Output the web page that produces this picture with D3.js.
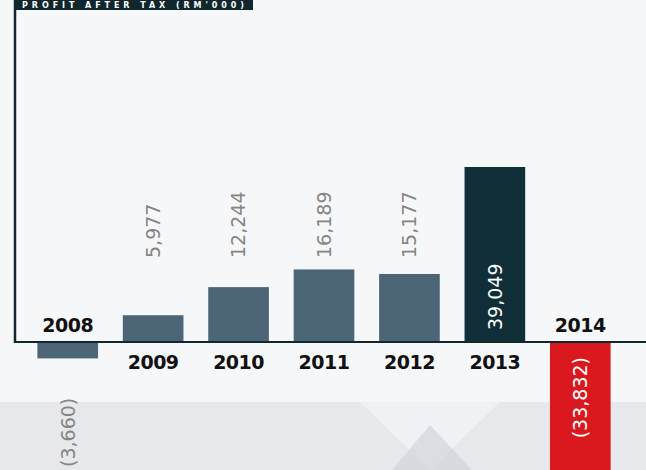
<!DOCTYPE html>
<html>
<head>
<meta charset="utf-8">
<script src="https://cdn.jsdelivr.net/npm/d3@7"></script>
<style>
  html, body { margin: 0; padding: 0; background: #f5f6f8; overflow: hidden; }
  svg { display: block; }
</style>
</head>
<body>
<svg id="chart" width="646" height="470"></svg>
<script>
// Profit after tax, RM'000 (brackets = loss)
const years = ["2008", "2009", "2010", "2011", "2012", "2013", "2014"];
const profits = [-3660, 5977, 12244, 16189, 15177, 39049, -33832];
const valueLabels = ["(3,660)", "5,977", "12,244", "16,189", "15,177", "39,049", "(33,832)"];
const highlightYear = "2013";
const title = "PROFIT AFTER TAX (RM'000)";

const W = 646, H = 470;
const svg = d3.select("#chart");

// Background panels
const bg = svg.append("g");
bg.append("rect").attr("width", W).attr("height", H).attr("fill", "#f6f7f9");
bg.append("rect").attr("x", 0).attr("y", 402).attr("width", W).attr("height", H - 402).attr("fill", "#e6e8eb");
bg.append("path").attr("d", "M360,402 L500,402 L430,470 Z").attr("fill", "#f0f1f4");
bg.append("path").attr("d", "M430,425 L392,470 L472,470 Z").attr("fill", "#cdd0d5").attr("opacity", 0.6);

const x = d3.scaleBand().domain(years).range([25, 623]).paddingInner(0.29).paddingOuter(0.145);
const y = d3.scaleLinear().domain([0, 39049]).range([342, 167]);

const data = years.map((yr, i) => ({ year: yr, value: profits[i], label: valueLabels[i] }));

const LOSS_RED = "#d9191d";
function barColor(d) {
  if (d.year === highlightYear) return "#0f2e38";
  if (d.year === "2014") return LOSS_RED;
  return "#4c6577";
}

// Bars
svg.append("g").selectAll("rect").data(data).join("rect")
  .attr("x", d => x(d.year))
  .attr("width", x.bandwidth())
  .attr("y", d => Math.min(y(d.value), y(0)))
  .attr("height", d => Math.abs(y(d.value) - y(0)))
  .attr("fill", barColor);

// Frame: left rule, baseline, title tab
const dark = "#10272e";
svg.append("line").attr("x1", 15).attr("x2", 15).attr("y1", 0).attr("y2", y(0) + 1)
  .attr("stroke", dark).attr("stroke-width", 2.5);
svg.append("line").attr("x1", 14).attr("x2", W).attr("y1", y(0)).attr("y2", y(0))
  .attr("stroke", dark).attr("stroke-width", 2);
svg.append("rect").attr("x", 14).attr("y", 0).attr("width", 239).attr("height", 10).attr("fill", dark);
svg.append("text").attr("x", 22).attr("y", 8)
  .attr("font-family", "DejaVu Sans").attr("font-weight", "bold").attr("font-size", 8)
  .attr("textLength", 222).attr("lengthAdjust", "spacing")
  .attr("fill", "#ffffff").text(title);

// Year labels: below the baseline for profits, above it for losses
svg.append("g").selectAll("text").data(data).join("text")
  .attr("x", d => x(d.year) + x.bandwidth() / 2)
  .attr("y", d => d.value < 0 ? y(0) - 10 : y(0) + 27)
  .attr("text-anchor", "middle")
  .attr("font-family", "DejaVu Sans").attr("font-weight", "bold").attr("font-size", 19)
  .attr("letter-spacing", -0.5)
  .attr("fill", "#111").text(d => d.year);

// Rotated value labels
function labelPos(d) {
  if (d.year === highlightYear) return { y: y(0) - 12, anchor: "start", fill: "#ffffff" };
  if (barColor(d) === LOSS_RED) return { y: y(0) + 15, anchor: "end", fill: "#ffffff" };
  if (d.value < 0) return { y: 467, anchor: "start", fill: "#858585" };
  return { y: 258, anchor: "start", fill: "#858585" };
}
svg.append("g").selectAll("text").data(data).join("text")
  .attr("transform", d => `translate(${x(d.year) + x.bandwidth() / 2},${labelPos(d).y}) rotate(-90)`)
  .attr("dy", "0.36em")
  .attr("text-anchor", d => labelPos(d).anchor)
  .attr("font-family", "DejaVu Sans").attr("font-size", 19)
  .attr("fill", d => labelPos(d).fill)
  .text(d => d.label);
</script>
</body>
</html>
